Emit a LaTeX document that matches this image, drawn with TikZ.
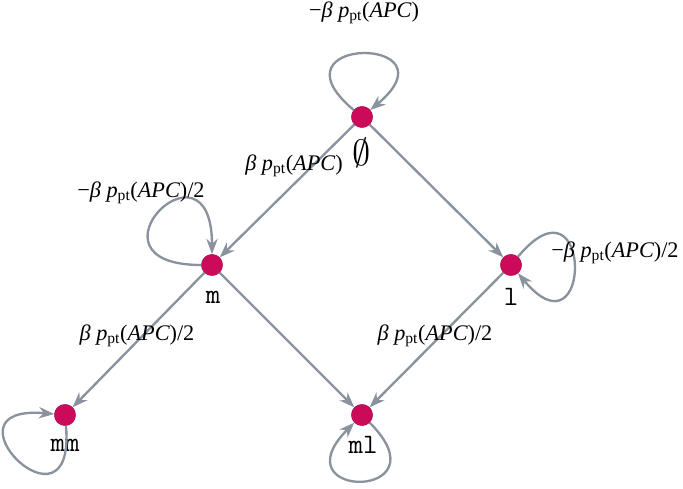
\documentclass[tikz,border=0pt]{standalone}
\usepackage{fontspec}
\setmainfont{Liberation Serif}
\usepackage{graphicx}
\usepackage{tikz}
\usetikzlibrary{arrows.meta}
\definecolor{vertex}{HTML}{CC0A5A}
\definecolor{edgegray}{HTML}{8A939D}
\newcommand{\pAPC}{{\itshape p}\textsubscript{pt}({\itshape APC})}

\begin{document}
\begin{tikzpicture}[
    x=0.03cm, y=0.03cm,
    vtx/.style={circle, draw=vertex!75!black, line width=0.3pt, fill=vertex, minimum size=0.64cm, inner sep=0pt},
    trans/.style={draw=edgegray, line width=2pt, -{Stealth[length=4.6mm, width=3.4mm, inset=1.5mm]}},
    rate/.style={font=\fontsize{19}{22}\selectfont, inner sep=0pt},
    vname/.style={font=\fontsize{24}{28}\selectfont\ttfamily, inner sep=0pt}
  ]
    \useasboundingbox (0,0) rectangle (683,489);

    % states
    \node[vtx] (e) at (362,372) {};
    \node[vtx] (m) at (212,224) {};
    \node[vtx] (l) at (511,224) {};
    \node[vtx] (mm) at (65,74) {};
    \node[vtx] (ml) at (362,74) {};

    \node[vname] (e-name) at (362,336) {\scalebox{1.25}{$\emptyset$}};
    \node[vname] (m-name) at (213,192) {m};
    \node[vname] (l-name) at (511,192) {l};
    \node[vname] (mm-name) at (65,44) {mm};
    \node[vname] (ml-name) at (363,44) {ml};

    % transitions
    \draw[trans] (e) -- (m);
    \draw[trans] (e) -- (l);
    \draw[trans] (m) -- (mm);
    \draw[trans] (m) -- (ml);
    \draw[trans] (l) -- (ml);

    \draw[trans] (e) to[out=140, in=40, distance=3.5cm] (e);
    \draw[trans] (m) to[out=180, in=90, distance=3.8cm] (m);
    \draw[trans] (l) to[out=50, in=-50, distance=3.5cm] (l);
    \draw[trans] (mm) to[out=-85, in=175, distance=3.6cm] (mm);
    \draw[trans] (ml) to[out=-45, in=-135, distance=3.3cm] (ml);

    % rates
    \node[rate] (r-e) at (364,476) {−{\itshape β} \pAPC};
    \node[rate] (r-em) at (294,323) {{\itshape β} \pAPC};
    \node[rate] (r-m) at (141,296) {−{\itshape β} \pAPC/2};
    \node[rate] (r-l) at (615,236) {−{\itshape β} \pAPC/2};
    \node[rate] (r-mmm) at (137,153) {{\itshape β} \pAPC/2};
    \node[rate] (r-lml) at (435,153) {{\itshape β} \pAPC/2};
  \end{tikzpicture}
\end{document}
